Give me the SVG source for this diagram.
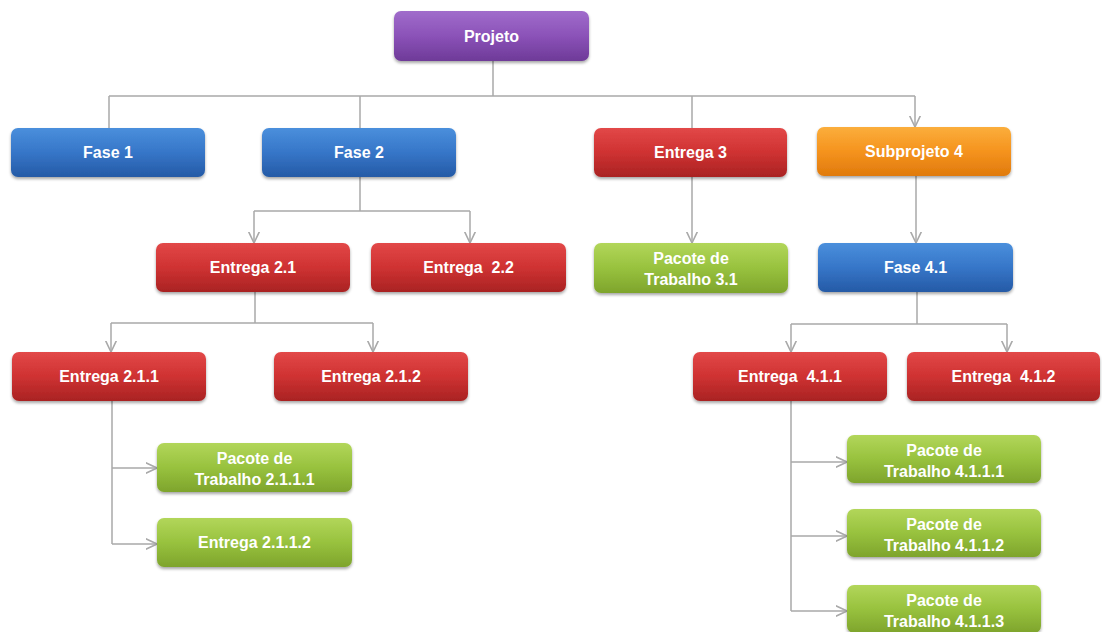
<svg xmlns="http://www.w3.org/2000/svg" width="1102" height="632" viewBox="0 0 1102 632">
<style>
.box{stroke:none;filter:url(#sh)}
.t{font-family:"Liberation Sans",Arial,sans-serif;font-weight:bold;font-size:16px;fill:#ffffff;text-anchor:middle}
.c{fill:none;stroke:#a9a9a9;stroke-width:1.5}
.a{marker-end:url(#arr)}
</style>
<defs>
<filter id="sh" x="-10%" y="-20%" width="120%" height="150%">
<feDropShadow dx="0" dy="2" stdDeviation="1.6" flood-color="#000" flood-opacity="0.35"/>
</filter>
<linearGradient id="gp" x1="0" y1="0" x2="0" y2="1"><stop offset="0" stop-color="#a06ccb"/><stop offset="0.5" stop-color="#8b52b8"/><stop offset="1" stop-color="#6e3a98"/></linearGradient>
<linearGradient id="gb" x1="0" y1="0" x2="0" y2="1"><stop offset="0" stop-color="#4a8fdc"/><stop offset="0.5" stop-color="#3676c8"/><stop offset="1" stop-color="#255aa6"/></linearGradient>
<linearGradient id="gr" x1="0" y1="0" x2="0" y2="1"><stop offset="0" stop-color="#e24848"/><stop offset="0.5" stop-color="#cf3232"/><stop offset="1" stop-color="#a92323"/></linearGradient>
<linearGradient id="go" x1="0" y1="0" x2="0" y2="1"><stop offset="0" stop-color="#fbae3c"/><stop offset="0.5" stop-color="#f5931e"/><stop offset="1" stop-color="#e07a0c"/></linearGradient>
<linearGradient id="gg" x1="0" y1="0" x2="0" y2="1"><stop offset="0" stop-color="#b2d65a"/><stop offset="0.5" stop-color="#98c23e"/><stop offset="1" stop-color="#7ea42c"/></linearGradient>
<marker id="arr" markerUnits="userSpaceOnUse" markerWidth="12" markerHeight="12" viewBox="0 0 10 10" refX="9.5" refY="5" orient="auto">
<path d="M0,0.5 L9.5,5 L0,9.5" fill="none" stroke="#a9a9a9" stroke-width="1.3"/>
</marker>
</defs>
<rect width="1102" height="632" fill="#ffffff"/>
<g id="connectors">
<path class="c" d="M493,61 V96 M109,96 H915 M109,96 V128 M360,96 V128 M692,96 V128"/>
<path class="c a" d="M915,96 V127"/>
<path class="c" d="M360,177 V211 M254,211 H470"/>
<path class="c a" d="M254,211 V243"/>
<path class="c a" d="M470,211 V243"/>
<path class="c a" d="M692,177 V243"/>
<path class="c a" d="M916,176 V243"/>
<path class="c" d="M255,292 V323 M111,323 H373"/>
<path class="c a" d="M111,323 V352"/>
<path class="c a" d="M373,323 V352"/>
<path class="c" d="M917,292 V324 M791,324 H1007"/>
<path class="c a" d="M791,324 V352"/>
<path class="c a" d="M1007,324 V352"/>
<path class="c" d="M112,401 V544"/>
<path class="c a" d="M112,468 H157"/>
<path class="c a" d="M112,544 H157"/>
<path class="c" d="M791,401 V611"/>
<path class="c a" d="M791,462 H847"/>
<path class="c a" d="M791,536 H847"/>
<path class="c a" d="M791,611 H847"/>
</g>
<g id="n-projeto"><rect class="box" x="394" y="11" width="195" height="50" rx="7" fill="url(#gp)"/><text class="t" x="491.5" y="41.5">Projeto</text></g>
<g id="n-fase1"><rect class="box" x="11" y="128" width="194" height="49" rx="7" fill="url(#gb)"/><text class="t" x="108" y="158">Fase 1</text></g>
<g id="n-fase2"><rect class="box" x="262" y="128" width="194" height="49" rx="7" fill="url(#gb)"/><text class="t" x="359" y="158">Fase 2</text></g>
<g id="n-entrega3"><rect class="box" x="594" y="128" width="193" height="49" rx="7" fill="url(#gr)"/><text class="t" x="690.5" y="158">Entrega 3</text></g>
<g id="n-subprojeto4"><rect class="box" x="817" y="127" width="194" height="49" rx="7" fill="url(#go)"/><text class="t" x="914" y="157">Subprojeto 4</text></g>
<g id="n-entrega21"><rect class="box" x="156" y="243" width="194" height="49" rx="7" fill="url(#gr)"/><text class="t" x="253" y="273">Entrega 2.1</text></g>
<g id="n-entrega22"><rect class="box" x="371" y="243" width="195" height="49" rx="7" fill="url(#gr)"/><text class="t" x="468.5" y="273" xml:space="preserve">Entrega  2.2</text></g>
<g id="n-pacote31"><rect class="box" x="594" y="243" width="194" height="50" rx="7" fill="url(#gg)"/><text class="t" x="691" y="264">Pacote de</text><text class="t" x="691" y="285">Trabalho 3.1</text></g>
<g id="n-fase41"><rect class="box" x="818" y="243" width="195" height="49" rx="7" fill="url(#gb)"/><text class="t" x="915.5" y="273">Fase 4.1</text></g>
<g id="n-entrega211"><rect class="box" x="12" y="352" width="194" height="49" rx="7" fill="url(#gr)"/><text class="t" x="109" y="382">Entrega 2.1.1</text></g>
<g id="n-entrega212"><rect class="box" x="274" y="352" width="194" height="49" rx="7" fill="url(#gr)"/><text class="t" x="371" y="382">Entrega 2.1.2</text></g>
<g id="n-entrega411"><rect class="box" x="693" y="352" width="194" height="49" rx="7" fill="url(#gr)"/><text class="t" x="790" y="382" xml:space="preserve">Entrega  4.1.1</text></g>
<g id="n-entrega412"><rect class="box" x="907" y="352" width="193" height="49" rx="7" fill="url(#gr)"/><text class="t" x="1003.5" y="382" xml:space="preserve">Entrega  4.1.2</text></g>
<g id="n-pacote2111"><rect class="box" x="157" y="443" width="195" height="49" rx="7" fill="url(#gg)"/><text class="t" x="254.5" y="464">Pacote de</text><text class="t" x="254.5" y="485">Trabalho 2.1.1.1</text></g>
<g id="n-entrega2112"><rect class="box" x="157" y="518" width="195" height="49" rx="7" fill="url(#gg)"/><text class="t" x="254.5" y="548">Entrega 2.1.1.2</text></g>
<g id="n-pacote4111"><rect class="box" x="847" y="435" width="194" height="48" rx="7" fill="url(#gg)"/><text class="t" x="944" y="455.5">Pacote de</text><text class="t" x="944" y="476.5">Trabalho 4.1.1.1</text></g>
<g id="n-pacote4112"><rect class="box" x="847" y="509" width="194" height="48" rx="7" fill="url(#gg)"/><text class="t" x="944" y="529.5">Pacote de</text><text class="t" x="944" y="550.5">Trabalho 4.1.1.2</text></g>
<g id="n-pacote4113"><rect class="box" x="847" y="585" width="194" height="48" rx="7" fill="url(#gg)"/><text class="t" x="944" y="605.5">Pacote de</text><text class="t" x="944" y="626.5">Trabalho 4.1.1.3</text></g>
</svg>
